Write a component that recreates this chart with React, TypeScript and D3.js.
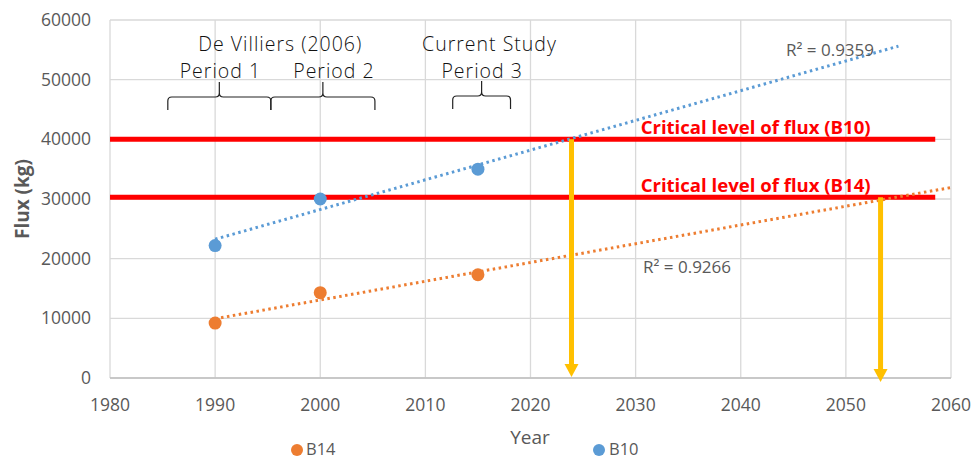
import React from "react";
import * as d3 from "d3";

// measured values
const years = [1990, 2000, 2015];
const b10 = [22200, 30000, 35000];
const b14 = [9200, 14300, 17300];
const xTicks = [1980, 1990, 2000, 2010, 2020, 2030, 2040, 2050, 2060];
const yTicks = [0, 10000, 20000, 30000, 40000, 50000, 60000];
const critical = [
  { label: "Critical level of flux (B10)", value: 40000, cross: 2023.9 },
  { label: "Critical level of flux (B14)", value: 30300, cross: 2053.3 }
];
const braces = [
  { from: 1985.5, to: 1995.3 },
  { from: 1995.3, to: 2005.2 },
  { from: 2012.6, to: 2018.1 }
];
const notes = [
  { text: "De Villiers (2006)", year: 1996.2, row: 0 },
  { text: "Period 1", year: 1990.5, row: 1 },
  { text: "Period 2", year: 2001.3, row: 1 },
  { text: "Current Study", year: 2016.1, row: 0 },
  { text: "Period 3", year: 2015.4, row: 1 }
];

const width = 971;
const height = 459;
const margin = { top: 20, right: 20, bottom: 81, left: 110 };

const x = d3.scaleLinear().domain([1980, 2060]).range([margin.left, width - margin.right]);
const y = d3.scaleLinear().domain([0, 60000]).range([height - margin.bottom, margin.top]);

const BLUE = "#5B9BD5";
const ORANGE = "#ED7D31";
const GREY = "#595959";
const axisFont = "'Open Sans', sans-serif";

// least squares trend
function fit(xs: number[], ys: number[]) {
  const mx = d3.mean(xs)!;
  const my = d3.mean(ys)!;
  let sxy = 0;
  let sxx = 0;
  xs.forEach((v, i) => {
    sxy += (v - mx) * (ys[i] - my);
    sxx += (v - mx) * (v - mx);
  });
  const slope = sxy / sxx;
  return (t: number) => my + slope * (t - mx);
}

function bracePath(x0: number, x1: number, yTop: number) {
  const mid = (x0 + x1) / 2;
  const p = d3.path();
  const h = 13;
  const peak = 15;
  const r = 4;
  p.moveTo(x0, yTop + h);
  p.lineTo(x0, yTop + r);
  p.quadraticCurveTo(x0, yTop, x0 + r, yTop);
  p.lineTo(mid - r, yTop);
  p.quadraticCurveTo(mid, yTop, mid, yTop - r);
  p.lineTo(mid, yTop - peak);
  p.moveTo(mid, yTop - r);
  p.quadraticCurveTo(mid, yTop, mid + r, yTop);
  p.lineTo(x1 - r, yTop);
  p.quadraticCurveTo(x1, yTop, x1, yTop + r);
  p.lineTo(x1, yTop + h);
  return p.toString();
}

export default function App() {
  const f10 = fit(years, b10);
  const f14 = fit(years, b14);
  const trend10 = d3.line<number>().x(d => x(d)).y(d => y(f10(d)))([1990, 2055]);
  const trend14 = d3.line<number>().x(d => x(d)).y(d => y(f14(d)))([1990, 2060]);

  return (
    <svg
      width={width}
      height={height}
      style={{ position: "absolute", left: 0, top: 0, background: "#fff" }}
    >
      {/* grid */}
      <g stroke="#d9d9d9" strokeWidth={1.3}>
        {xTicks.map(t => (
          <line key={"gx" + t} x1={x(t)} x2={x(t)} y1={y(60000)} y2={y(0)} />
        ))}
        {yTicks.map(t => (
          <line key={"gy" + t} x1={x(1980)} x2={x(2060)} y1={y(t)} y2={y(t)} />
        ))}
      </g>
      <line x1={x(1980)} x2={x(2060)} y1={y(0)} y2={y(0)} stroke="#bfbfbf" strokeWidth={1.5} />

      {/* tick labels */}
      <g fill={GREY} fontFamily={axisFont} fontSize={17.5}>
        {yTicks.map(t => (
          <text key={"ty" + t} x={x(1980) - 19} y={y(t)} dy="0.35em" textAnchor="end">
            {t}
          </text>
        ))}
        {xTicks.map(t => (
          <text key={"tx" + t} x={x(t)} y={y(0) + 33} textAnchor="middle">
            {t}
          </text>
        ))}
      </g>
      <text
        transform={`translate(29, ${y(30000)}) rotate(-90)`}
        textAnchor="middle"
        fill={GREY}
        fontFamily={axisFont}
        fontWeight={700}
        fontSize={19}
      >
        Flux (kg)
      </text>
      <text x={530} y={444} textAnchor="middle" fill={GREY} fontFamily={axisFont} fontSize={19}>
        Year
      </text>

      {/* critical levels */}
      {critical.map(c => (
        <g key={c.label}>
          <line x1={x(1980)} x2={x(2058.5)} y1={y(c.value)} y2={y(c.value)} stroke="#ff0000" strokeWidth={5} />
          <text
            x={x(2030) + 5}
            y={y(c.value) - 5}
            fill="#ff0000"
            fontFamily={axisFont}
            fontWeight={700}
            fontSize={17}
            textLength={230}
            lengthAdjust="spacingAndGlyphs"
          >
            {c.label}
          </text>
        </g>
      ))}

      {/* trendlines */}
      <path d={trend10 || ""} fill="none" stroke={BLUE} strokeWidth={3} strokeDasharray="2.5 3.5" />
      <path d={trend14 || ""} fill="none" stroke={ORANGE} strokeWidth={3} strokeDasharray="2.5 3.5" />

      {/* arrows */}
      {critical.map((c, i) => {
        const ax = x(c.cross);
        const tip = y(0) + (i === 0 ? -1 : 4);
        return (
          <g key={"a" + i} fill="#FFC000" stroke="#FFC000">
            <line x1={ax} x2={ax} y1={y(c.value)} y2={tip - 10} strokeWidth={5} />
            <path d={`M${ax - 7},${tip - 13}L${ax + 7},${tip - 13}L${ax},${tip}Z`} stroke="none" />
          </g>
        );
      })}

      {/* points */}
      {years.map((t, i) => (
        <circle key={"b10" + t} cx={x(t)} cy={y(b10[i])} r={6.5} fill={BLUE} />
      ))}
      {years.map((t, i) => (
        <circle key={"b14" + t} cx={x(t)} cy={y(b14[i])} r={6.5} fill={ORANGE} />
      ))}

      {/* R² labels */}
      <g fill={GREY} fontFamily={axisFont} fontSize={17}>
        <text x={786} y={56}>R² = 0.9359</text>
        <text x={643} y={273}>R² = 0.9266</text>
      </g>

      {/* annotations */}
      <g
        fill="#111"
        fontFamily="'Open Sans', sans-serif"
        fontWeight={300}
        fontSize={19.5}
        letterSpacing={1}
        textAnchor="middle"
      >
        {notes.map(n => (
          <text key={n.text} x={x(n.year)} y={n.row === 0 ? 51 : 78}>
            {n.text}
          </text>
        ))}
      </g>
      <g fill="none" stroke="#222" strokeWidth={1.2}>
        {braces.map((b, i) => (
          <path key={"br" + i} d={bracePath(x(b.from), x(b.to), i === 2 ? 96 : 97)} />
        ))}
      </g>

      {/* legend */}
      <g fontFamily={axisFont} fontSize={16.5} fill={GREY}>
        <circle cx={297} cy={450} r={6} fill={ORANGE} />
        <text x={306} y={455}>B14</text>
        <circle cx={599} cy={450} r={6} fill={BLUE} />
        <text x={609} y={455}>B10</text>
      </g>
    </svg>
  );
}
